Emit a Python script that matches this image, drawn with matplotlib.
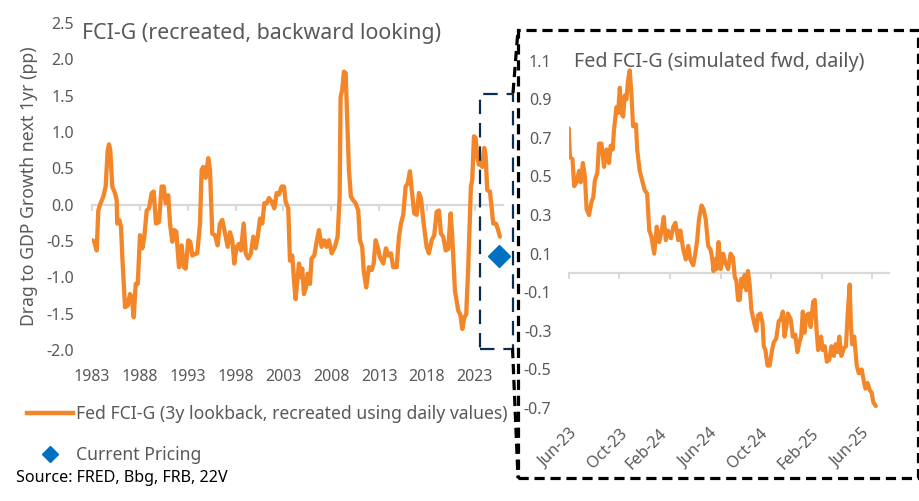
import numpy as np
import pandas as pd
import matplotlib
matplotlib.use("Agg")
import matplotlib.pyplot as plt
import matplotlib.dates as mdates
from matplotlib.ticker import FuncFormatter, MultipleLocator
from matplotlib.patches import Rectangle
from matplotlib.lines import Line2D

plt.rcParams['font.family'] = ['Noto Sans', 'DejaVu Sans']

# --- left chart: backward looking FCI-G (decimal years) ---
hist_years = [
    1983.03, 1983.24, 1983.49, 1983.66, 1983.84, 1984.18, 1984.43, 1984.64, 1984.78, 1984.91,
    1985.12, 1985.40, 1985.58, 1985.64, 1985.85, 1986.03, 1986.17, 1986.45, 1986.73, 1986.97,
    1987.15, 1987.36, 1987.57, 1987.78, 1988.02, 1988.26, 1988.47, 1988.72, 1988.96, 1989.24,
    1989.45, 1989.69, 1990.00, 1990.28, 1990.49, 1990.70, 1990.97, 1991.15, 1991.39, 1991.60,
    1991.81, 1992.09, 1992.37, 1992.58, 1992.79, 1993.06, 1993.27, 1993.48, 1993.76, 1994.00,
    1994.29, 1994.46, 1994.63, 1994.88, 1995.15, 1995.33, 1995.57, 1995.85, 1996.13, 1996.37,
    1996.62, 1997.18, 1997.42, 1997.66, 1997.87, 1998.12, 1998.36, 1998.57, 1998.85, 1999.06,
    1999.33, 1999.61, 1999.86, 2000.11, 2000.32, 2000.56, 2000.80, 2001.01, 2001.26, 2001.50,
    2001.78, 2002.05, 2002.30, 2002.54, 2002.82, 2003.06, 2003.24, 2003.51, 2003.69, 2003.93,
    2004.14, 2004.28, 2004.49, 2004.63, 2004.84, 2004.97, 2005.15, 2005.36, 2005.54, 2005.78,
    2005.95, 2006.23, 2006.44, 2006.72, 2007.00, 2007.27, 2007.52, 2007.76, 2008.05, 2008.39,
    2008.67, 2008.88, 2008.98, 2009.15, 2009.33, 2009.51, 2009.72, 2009.85, 2010.06, 2010.30,
    2010.55, 2010.83, 2011.00, 2011.24, 2011.39, 2011.66, 2011.94, 2012.23, 2012.44, 2012.64,
    2012.85, 2013.09, 2013.44, 2013.72, 2013.96, 2014.24, 2014.48, 2014.84, 2015.08, 2015.29,
    2015.53, 2015.78, 2015.99, 2016.23, 2016.41, 2016.68, 2016.93, 2017.17, 2017.38, 2017.62,
    2017.97, 2018.21, 2018.50, 2018.77, 2019.02, 2019.26, 2019.47, 2019.71, 2019.96, 2020.23,
    2020.48, 2020.65, 2020.93, 2021.28, 2021.49, 2021.70, 2021.91, 2022.11, 2022.32, 2022.50,
    2022.60, 2022.74, 2022.92, 2023.09, 2023.26, 2023.44, 2023.65, 2023.78, 2023.99, 2024.14,
    2024.31, 2024.59, 2024.76, 2024.93, 2025.22, 2025.40, 2025.63,
]
hist_vals = [
    -0.49, -0.51, -0.63, -0.08, 0.00, 0.11, 0.25, 0.75, 0.83, 0.75,
    0.25, 0.16, 0.06, -0.26, -0.21, -0.30, -0.72, -1.41, -1.39, -1.23,
    -1.27, -1.55, -1.09, -1.09, -0.42, -0.60, -0.44, -0.08, -0.05, 0.16,
    0.18, -0.26, -0.24, 0.25, 0.25, 0.02, 0.13, -0.26, -0.51, -0.35,
    -0.37, -0.86, -0.56, -0.86, -0.88, -0.49, -0.51, -0.70, -0.68, -0.67,
    -0.26, 0.48, 0.52, 0.37, 0.64, 0.48, -0.40, -0.42, -0.56, -0.26,
    -0.21, -0.58, -0.38, -0.49, -0.81, -0.58, -0.54, -0.63, -0.26, -0.67,
    -0.74, -0.67, -0.44, -0.60, -0.44, -0.19, -0.26, 0.02, 0.02, 0.09,
    0.04, -0.05, 0.16, 0.14, 0.25, 0.25, 0.04, -0.05, -0.77, -0.70,
    -1.09, -1.30, -1.00, -0.81, -1.00, -0.88, -1.23, -1.14, -0.95, -1.09,
    -0.74, -0.70, -0.54, -0.35, -0.58, -0.49, -0.58, -0.49, -0.67, -0.58,
    -0.44, 0.11, 1.48, 1.58, 1.83, 1.81, 0.98, 0.48, 0.11, 0.06,
    0.02, -0.08, -0.49, -0.58, -0.90, -1.14, -0.86, -0.90, -0.81, -0.49,
    -0.58, -0.72, -0.81, -0.60, -0.70, -0.67, -0.86, -0.86, -0.44, -0.26,
    -0.14, 0.25, 0.29, 0.46, 0.21, -0.12, -0.14, 0.16, 0.09, -0.21,
    -0.58, -0.67, -0.49, -0.42, -0.10, -0.08, -0.40, -0.44, -0.63, -0.61,
    -0.12, -0.44, -1.18, -1.46, -1.51, -1.71, -1.55, -1.51, -0.86, -0.12,
    0.25, 0.34, 0.94, 0.92, 0.66, 0.55, 0.61, 0.52, 0.78, 0.66,
    0.20, 0.18, -0.03, -0.26, -0.26, -0.33, -0.44,
]
current_year = 2025.55
current_val = -0.70

# --- right chart: simulated forward, daily ---
fwd_dates = [
    "2023-06-01", "2023-06-04", "2023-06-10", "2023-06-14", "2023-06-20", "2023-06-26", "2023-06-30",
    "2023-07-05", "2023-07-10", "2023-07-14", "2023-07-20", "2023-07-26", "2023-07-30", "2023-08-03",
    "2023-08-09", "2023-08-13", "2023-08-19", "2023-08-25", "2023-08-31", "2023-09-06", "2023-09-10",
    "2023-09-15", "2023-09-18", "2023-09-24", "2023-09-28", "2023-10-02", "2023-10-06", "2023-10-10",
    "2023-10-14", "2023-10-18", "2023-10-22", "2023-10-26", "2023-10-30", "2023-11-03", "2023-11-10",
    "2023-11-13", "2023-11-19", "2023-11-26", "2023-12-01", "2023-12-07", "2023-12-12", "2023-12-17",
    "2023-12-24", "2023-12-30", "2024-01-05", "2024-01-11", "2024-01-16", "2024-01-21", "2024-01-26",
    "2024-02-02", "2024-02-08", "2024-02-13", "2024-02-20", "2024-02-25", "2024-03-03", "2024-03-09",
    "2024-03-15", "2024-03-20", "2024-03-27", "2024-04-01", "2024-04-05", "2024-04-10", "2024-04-16",
    "2024-04-21", "2024-04-26", "2024-05-02", "2024-05-08", "2024-05-12", "2024-05-15", "2024-05-18",
    "2024-05-22", "2024-05-27", "2024-06-01", "2024-06-07", "2024-06-13", "2024-06-19", "2024-06-25",
    "2024-07-01", "2024-07-05", "2024-07-09", "2024-07-13", "2024-07-17", "2024-07-21", "2024-07-25",
    "2024-07-29", "2024-08-02", "2024-08-06", "2024-08-10", "2024-08-14", "2024-08-21", "2024-08-26",
    "2024-08-30", "2024-09-05", "2024-09-10", "2024-09-13", "2024-09-17", "2024-09-22", "2024-09-27",
    "2024-10-03", "2024-10-07", "2024-10-13", "2024-10-19", "2024-10-24", "2024-10-29", "2024-11-02",
    "2024-11-07", "2024-11-10", "2024-11-17", "2024-11-22", "2024-11-28", "2024-12-03", "2024-12-08",
    "2024-12-12", "2024-12-16", "2024-12-20", "2024-12-25", "2024-12-30", "2025-01-04", "2025-01-10",
    "2025-01-14", "2025-01-18", "2025-01-22", "2025-01-29", "2025-02-02", "2025-02-07", "2025-02-12",
    "2025-02-18", "2025-02-23", "2025-03-01", "2025-03-05", "2025-03-10", "2025-03-14", "2025-03-19",
    "2025-03-25", "2025-03-30", "2025-04-03", "2025-04-08", "2025-04-11", "2025-04-14", "2025-04-19",
    "2025-04-25", "2025-04-30", "2025-05-07", "2025-05-12", "2025-05-16", "2025-05-21", "2025-05-27",
    "2025-05-31", "2025-06-04", "2025-06-10",
]
fwd_vals = [
    0.75, 0.60, 0.59, 0.45, 0.47, 0.53, 0.47,
    0.57, 0.50, 0.33, 0.30, 0.37, 0.39, 0.48,
    0.52, 0.67, 0.67, 0.55, 0.64, 0.57, 0.66,
    0.64, 0.74, 0.86, 0.83, 0.96, 0.83, 0.81,
    0.92, 0.90, 1.00, 1.05, 0.93, 0.76, 0.77,
    0.64, 0.53, 0.47, 0.43, 0.41, 0.22, 0.19,
    0.10, 0.24, 0.16, 0.22, 0.29, 0.17, 0.22,
    0.18, 0.24, 0.26, 0.17, 0.22, 0.12, 0.07,
    0.14, 0.07, 0.04, 0.10, 0.16, 0.28, 0.35,
    0.33, 0.28, 0.14, 0.12, 0.07, 0.01, 0.07,
    0.02, 0.16, 0.02, 0.10, 0.05, 0.02, 0.10,
    0.08, -0.02, -0.04, -0.14, -0.14, -0.03, -0.07,
    -0.01, -0.09, 0.01, -0.06, -0.19, -0.26, -0.30,
    -0.22, -0.21, -0.26, -0.38, -0.40, -0.48, -0.48,
    -0.40, -0.36, -0.34, -0.25, -0.24, -0.20, -0.33,
    -0.27, -0.21, -0.24, -0.33, -0.32, -0.41, -0.36,
    -0.33, -0.20, -0.31, -0.22, -0.21, -0.28, -0.15,
    -0.14, -0.29, -0.40, -0.33, -0.40, -0.38, -0.46,
    -0.45, -0.38, -0.43, -0.37, -0.41, -0.33, -0.43,
    -0.39, -0.38, -0.22, -0.06, -0.27, -0.37, -0.33,
    -0.48, -0.52, -0.50, -0.56, -0.60, -0.57, -0.61,
    -0.62, -0.67, -0.69,
]

ORANGE = '#F4862A'
BLUE = '#0070C0'
NAVY = '#0B2D50'
GREY_TXT = '#595959'
GREY_AX = '#D9D9D9'

fig = plt.figure(figsize=(9.2, 5.01), dpi=100)

# ---------------- left chart ----------------
ax1 = fig.add_axes([0.100, 0.3014, 0.4467, 0.6527])
ax1.plot(hist_years, hist_vals, color=ORANGE, lw=3.1,
         solid_joinstyle='round', solid_capstyle='round', zorder=3)
ax1.plot([current_year], [current_val], marker='D', color=BLUE, ms=11.5,
         ls='none', zorder=4, clip_on=False)
ax1.set_xlim(1983, 2025.95)
ax1.set_ylim(-2.0, 2.5)
ax1.yaxis.set_major_locator(MultipleLocator(0.5))
ax1.yaxis.set_major_formatter(FuncFormatter(lambda v, p: f"{v:.1f}"))
ax1.set_xticks(np.arange(1983, 2024, 5))
for s in ['top', 'right', 'left']:
    ax1.spines[s].set_visible(False)
ax1.spines['bottom'].set_position(('data', 0))
ax1.spines['bottom'].set_color(GREY_AX)
ax1.spines['bottom'].set_linewidth(1.6)
ax1.tick_params(axis='x', direction='out', length=4, width=1.4, color=GREY_AX,
                labelbottom=False)
ax1.tick_params(axis='y', length=0, pad=13, labelsize=11.5, labelcolor=GREY_TXT)
sec1 = ax1.secondary_xaxis('bottom')
sec1.set_xticks(np.arange(1983, 2024, 5))
sec1.xaxis.set_major_formatter(FuncFormatter(lambda v, p: f"{v:.0f}"))
sec1.spines['bottom'].set_visible(False)
sec1.tick_params(length=0, pad=13.5, labelsize=11.5, labelcolor=GREY_TXT)
ax1.set_ylabel("Drag to GDP Growth next 1yr (pp)", fontsize=12.7, color=GREY_TXT,
               labelpad=6)
fig.text(82 / 920, 1 - 33 / 501, "FCI-G (recreated, backward looking)",
         fontsize=15.4, color=GREY_TXT, va='center', ha='left')

# navy dashed highlight box around the recent period
ax1.add_patch(Rectangle((2023.55, -1.98), 3.45, 3.50, fill=False, edgecolor=NAVY,
                        lw=1.6, ls=(0, (6.5, 4)), clip_on=False, zorder=5))

# ---------------- right chart ----------------
fd = pd.to_datetime(fwd_dates)
ax2 = fig.add_axes([0.6182, 0.1856, 0.3482, 0.6932])
ax2.plot(fd, fwd_vals, color=ORANGE, lw=3.0,
         solid_joinstyle='round', solid_capstyle='round', zorder=3)
ax2.set_xlim(pd.Timestamp("2023-06-01"), pd.Timestamp("2025-07-12"))
ax2.set_ylim(-0.7, 1.1)
ax2.set_yticks(np.round(np.arange(-0.7, 1.11, 0.2), 1))
ax2.yaxis.set_major_formatter(FuncFormatter(lambda v, p: f"{v:.1f}"))
loc = mdates.MonthLocator(bymonth=[2, 6, 10])
ax2.xaxis.set_major_locator(loc)
for s in ['top', 'right', 'left']:
    ax2.spines[s].set_visible(False)
ax2.spines['bottom'].set_position(('data', 0))
ax2.spines['bottom'].set_color(GREY_AX)
ax2.spines['bottom'].set_linewidth(1.6)
ax2.tick_params(axis='x', direction='out', length=4, width=1.4, color=GREY_AX,
                labelbottom=False)
ax2.tick_params(axis='y', length=0, pad=12.5, labelsize=11.5, labelcolor=GREY_TXT)
sec2 = ax2.secondary_xaxis('bottom')
sec2.xaxis.set_major_locator(mdates.MonthLocator(bymonth=[2, 6, 10]))
sec2.xaxis.set_major_formatter(mdates.DateFormatter('%b-%y'))
sec2.spines['bottom'].set_visible(False)
sec2.tick_params(length=0, pad=13, labelsize=11.5, labelcolor=GREY_TXT)
for lab in sec2.get_xticklabels():
    lab.set_rotation(45)
    lab.set_ha('right')
    lab.set_rotation_mode('anchor')
    lab.set_va('top')
fig.text(574 / 920, 1 - 62 / 501, "Fed FCI-G (simulated fwd, daily)",
         fontsize=14.2, color=GREY_TXT, va='center', ha='left')

# black dashed frame around the forward chart, with connectors
dash_k = (0, (3.2, 1.8))
fig.add_artist(Rectangle((518 / 920, 1 - 478 / 501), 400 / 920, 448 / 501,
                         transform=fig.transFigure, fill=False, edgecolor='black',
                         lw=2.3, ls=dash_k))
fig.add_artist(Line2D([513 / 920, 518 / 920], [1 - 93 / 501, 1 - 30 / 501],
                      transform=fig.transFigure, color='black', lw=2.3, ls=dash_k))
fig.add_artist(Line2D([512.5 / 920, 518 / 920], [1 - 348 / 501, 1 - 478 / 501],
                      transform=fig.transFigure, color='black', lw=2.3, ls=dash_k))

# legend
handles = [Line2D([], [], color=ORANGE, lw=3.2),
           Line2D([], [], marker='D', color=BLUE, ls='none', ms=8)]
labels = ["Fed FCI-G (3y lookback, recreated using daily values)", "Current Pricing"]
fig.legend(handles, labels, loc='upper left', bbox_to_anchor=(27 / 920, 1 - 405 / 501),
           frameon=False, fontsize=12.65, handlelength=2.6, handletextpad=0.2,
           labelspacing=1.3, borderpad=0, borderaxespad=0, labelcolor=GREY_TXT)

fig.text(16 / 920, 1 - 478 / 501, "Source: FRED, Bbg, FRB, 22V", fontsize=11.6,
         color='black', va='center', ha='left')

fig.savefig("out.png", dpi=100)
